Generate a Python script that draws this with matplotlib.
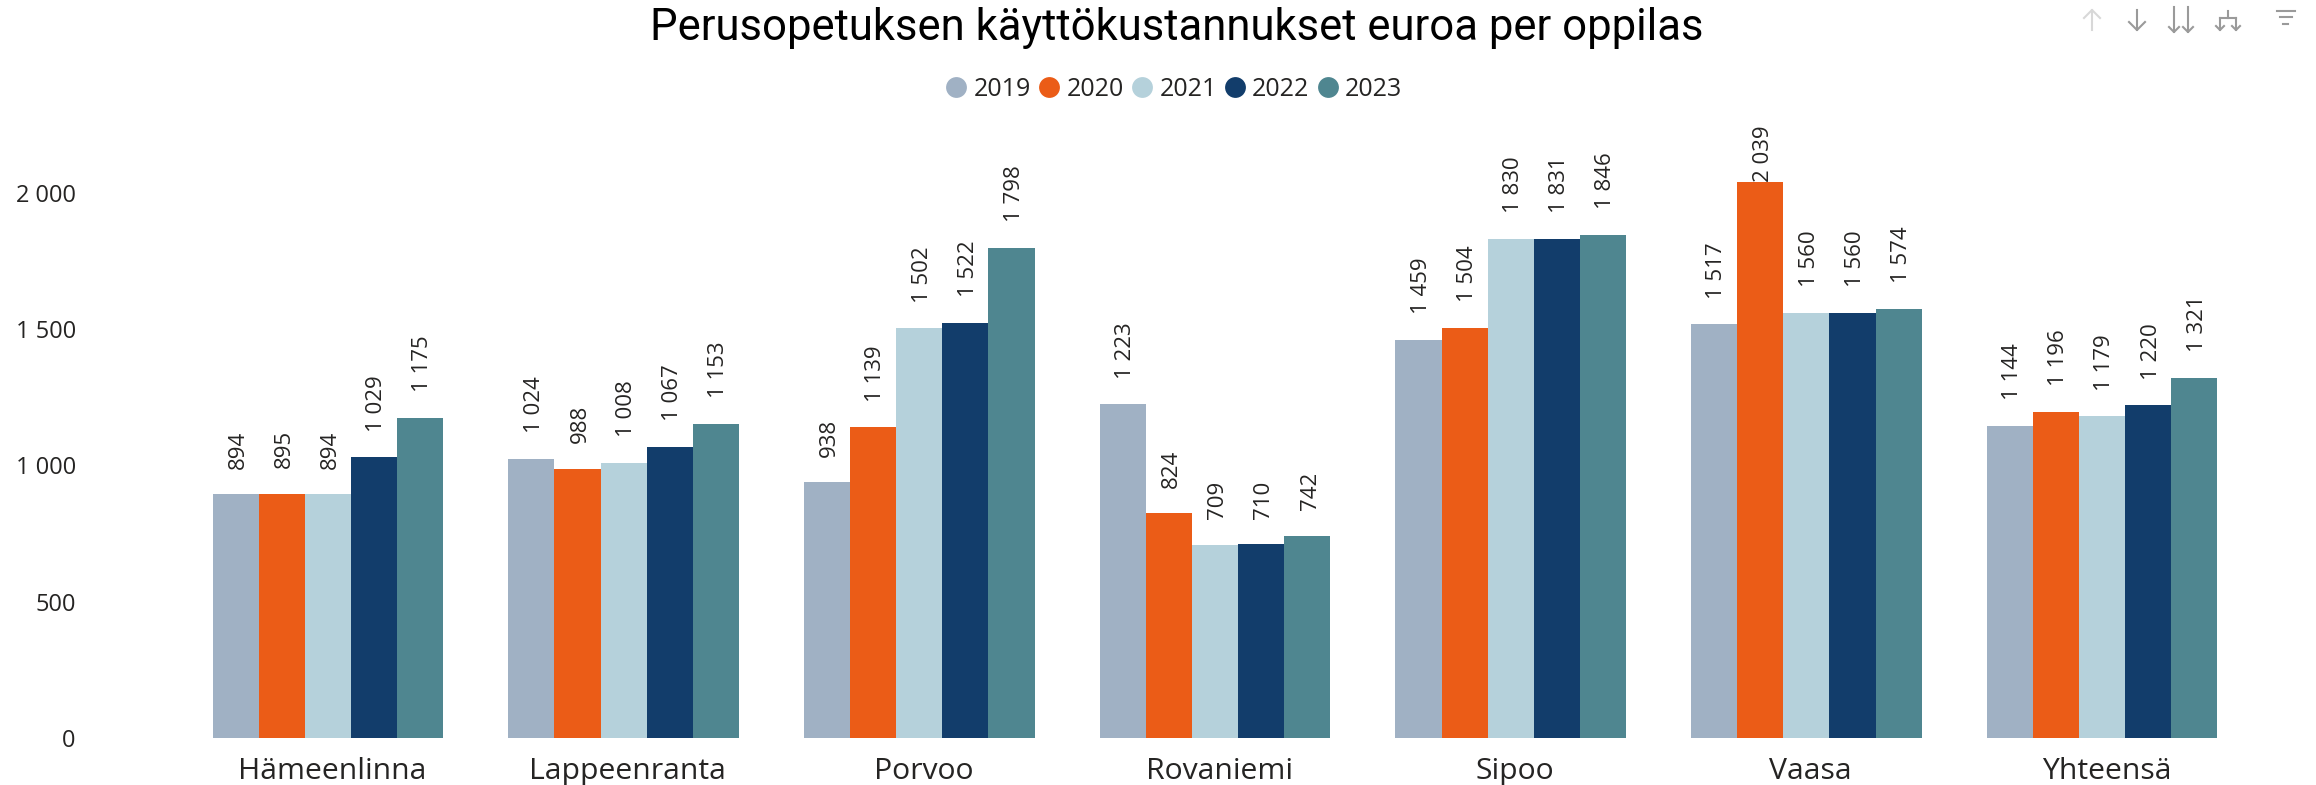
import matplotlib
matplotlib.use("Agg")
import matplotlib.pyplot as plt
from matplotlib.lines import Line2D
from matplotlib.transforms import ScaledTranslation
import numpy as np

W, H = 2316, 785

cities = ["Hämeenlinna", "Lappeenranta", "Porvoo", "Rovaniemi", "Sipoo", "Vaasa", "Yhteensä"]
years = ["2019", "2020", "2021", "2022", "2023"]
v2019 = [894, 1024, 938, 1223, 1459, 1517, 1144]
v2020 = [895, 988, 1139, 824, 1504, 2039, 1196]
v2021 = [894, 1008, 1502, 709, 1830, 1560, 1179]
v2022 = [1029, 1067, 1522, 710, 1831, 1560, 1220]
v2023 = [1175, 1153, 1798, 742, 1846, 1574, 1321]
series = [v2019, v2020, v2021, v2022, v2023]
colors = ["#A0B1C4", "#EB5C17", "#B5D1DB", "#123D6B", "#4F8690"]
yticks = [0, 500, 1000, 1500, 2000]


def fmt(v):
    return f"{v:,}".replace(",", " ")


plt.rcParams["font.family"] = ["Open Sans", "DejaVu Sans"]

fig = plt.figure(figsize=(W / 100, H / 100), dpi=100, facecolor="white")

# plot area in pixels: centre of first group 328, step 295.7, baseline y=738
left, right = 180, 2250
top, bottom = 100, 738
ax = fig.add_axes([left / W, 1 - bottom / H, (right - left) / W, (bottom - top) / H])

x = np.arange(len(cities))
bar_w = 0.156
tallest = max(max(s) for s in series)
for i, vals in enumerate(series):
    pos = x + (i - 2) * bar_w
    ax.bar(pos, vals, width=bar_w, color=colors[i], edgecolor="none", label=years[i])
    for p, v in zip(pos, vals):
        # the tallest label runs out of headroom and sits right on its bar
        off = 0 if v == tallest else 18.5
        ax.annotate(fmt(v), (p, v), xytext=(2, off), textcoords="offset points",
                    rotation=90, ha="center", va="bottom", fontsize=16, color="#252423")

ax.set_xlim(-0.5, 6.5)
ax.set_ylim(0, 638 / 0.2727)
ax.set_xticks(x)
ax.set_xticklabels(cities, fontsize=21.7, color="#252423")
ax.set_yticks(yticks)
ax.set_yticklabels([fmt(t) for t in yticks], fontsize=17, color="#252423")
ax.tick_params(axis="x", length=0, pad=14)
ax.tick_params(axis="y", length=0, pad=75)
nudge = ScaledTranslation(3 / 72, 0, fig.dpi_scale_trans)
for lab in ax.get_xticklabels():
    lab.set_transform(lab.get_transform() + nudge)
for s in ax.spines.values():
    s.set_visible(False)

fig.text(1177 / W, 1 - 28 / H, "Perusopetuksen käyttökustannukset euroa per oppilas",
         ha="center", va="center", fontsize=31.4, family=["Roboto", "DejaVu Sans"], color="black")

handles = [Line2D([], [], linestyle="none", marker="o", markersize=15, color=c, markeredgecolor="none")
           for c in colors]
fig.legend(handles, years, loc="center", bbox_to_anchor=(1173 / W, 1 - 89 / H), ncol=5, frameon=False,
           fontsize=18, handletextpad=0.2, columnspacing=0.22, labelcolor="#252423", handlelength=1.0)


# toolbar icons, top right
def seg(xs, ys, c="#9a9a9a", lw=1.5):
    fig.add_artist(Line2D([p / W for p in xs], [1 - p / H for p in ys], color=c, lw=lw))


seg([2092, 2092], [10, 30], c="#d8d8d8")
seg([2084, 2092, 2100], [18, 10, 18], c="#d8d8d8")
seg([2137, 2137], [10, 30])
seg([2129, 2137, 2145], [22, 30, 22])
for px in [2174, 2188]:
    seg([px, px], [7, 32])
    seg([px - 5, px, px + 5], [27, 32, 27])
seg([2228, 2228], [11, 18])
seg([2220, 2236], [18, 18])
for px in [2220, 2236]:
    seg([px, px], [18, 30])
    seg([px - 4, px, px + 4], [26, 30, 26])
seg([2277, 2295], [11, 11])
seg([2280, 2292], [17, 17])
seg([2283, 2288], [24, 24])

fig.savefig("out.png", dpi=100)
